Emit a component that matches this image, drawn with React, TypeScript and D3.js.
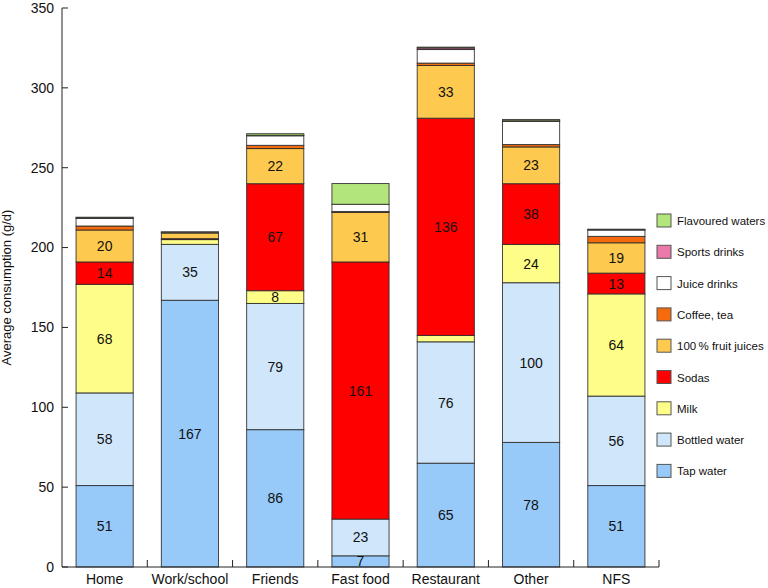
import React, { useEffect, useRef } from "react";
import * as d3 from "d3";

const categories = ["Home", "Work/school", "Friends", "Fast food", "Restaurant", "Other", "NFS"];

const seriesNames = [
  "Tap water",
  "Bottled water",
  "Milk",
  "Sodas",
  "100\u2009% fruit juices",
  "Coffee, tea",
  "Juice drinks",
  "Sports drinks",
  "Flavoured waters",
];

const seriesColours = [
  "#97c9f9",
  "#cfe6fb",
  "#fdfd88",
  "#ff0000",
  "#fec94f",
  "#f46a0c",
  "#ffffff",
  "#e97aab",
  "#b2e67c",
];

// values per category, one array per series (g/d)
const tapWater = [51, 167, 86, 7, 65, 78, 51];
const bottledWater = [58, 35, 79, 23, 76, 100, 56];
const milk = [68, 3, 8, 0, 4, 24, 64];
const sodas = [14, 0.6, 67, 161, 136, 38, 13];
const fruitJuices = [20, 3.5, 22, 31, 33, 23, 19];
const coffeeTea = [2.5, 0.5, 2, 0.6, 1.5, 1.5, 4];
const juiceDrinks = [4.8, 0.3, 6, 4.5, 8.5, 14.5, 4];
const sportsDrinks = [0.3, 0, 0.3, 0, 1, 0.4, 0.2];
const flavouredWaters = [0.4, 0, 1, 13, 0.5, 0.8, 0.3];

const yTicks = [0, 50, 100, 150, 200, 250, 300, 350];

const FONT = "'Liberation Sans', Arial, Helvetica, sans-serif";
const WIDTH = 768;
const HEIGHT = 588;

const App = () => {
  const svgRef = useRef(null);

  useEffect(() => {
    document.body.style.margin = "0";
    const svg = d3.select(svgRef.current);
    svg.selectAll("*").remove();

    const margin = { left: 62, right: 109, top: 8, bottom: 21 };
    const plotRight = WIDTH - margin.right;
    const plotBottom = HEIGHT - margin.bottom;

    const x = d3.scaleBand().domain(categories).range([margin.left, plotRight]).paddingInner(0.33).paddingOuter(0.165);
    const bandStep = x.step();
    const y = d3.scaleLinear().domain([0, 350]).range([plotBottom, margin.top]);

    const allSeries = [tapWater, bottledWater, milk, sodas, fruitJuices, coffeeTea, juiceDrinks, sportsDrinks, flavouredWaters];
    const table = categories.map((c, i) => {
      const row = { cat: c };
      seriesNames.forEach((s, k) => { row[s] = allSeries[k][i]; });
      return row;
    });
    const stacked = d3.stack().keys(seriesNames)(table);

    const g = svg.append("g");

    // bars
    stacked.forEach((layer, k) => {
      g.append("g")
        .selectAll("rect")
        .data(layer)
        .join("rect")
        .attr("x", (d) => x(d.data.cat))
        .attr("width", x.bandwidth())
        .attr("y", (d) => y(d[1]))
        .attr("height", (d) => Math.max(0, y(d[0]) - y(d[1])))
        .attr("fill", seriesColours[k])
        .attr("stroke", (d) => (d[1] - d[0] > 0 ? "#2a2a2a" : "none"))
        .attr("stroke-opacity", 0.85)
        .attr("stroke-width", 1);
    });

    // value labels, main drinks only
    stacked.slice(0, 5).forEach((layer) => {
      g.append("g")
        .selectAll("text")
        .data(layer.filter((d) => d[1] - d[0] >= 5))
        .join("text")
        .attr("x", (d) => x(d.data.cat) + x.bandwidth() / 2)
        .attr("y", (d) => (y(d[0]) + y(d[1])) / 2)
        .attr("dy", "0.36em")
        .attr("text-anchor", "middle")
        .style("font-family", FONT)
        .style("font-size", "14px")
        .attr("fill", "#111")
        .text((d) => d3.format("d")(d[1] - d[0]));
    });

    // y axis
    g.append("line")
      .attr("x1", margin.left).attr("x2", margin.left)
      .attr("y1", margin.top).attr("y2", plotBottom)
      .attr("stroke", "#222").attr("stroke-width", 1);
    yTicks.forEach((t) => {
      g.append("line")
        .attr("x1", margin.left).attr("x2", margin.left + 6)
        .attr("y1", y(t)).attr("y2", y(t))
        .attr("stroke", "#222");
      g.append("text")
        .attr("x", margin.left - 8)
        .attr("y", y(t))
        .attr("dy", "0.35em")
        .attr("text-anchor", "end")
        .style("font-family", FONT)
        .style("font-size", "14px")
        .attr("fill", "#111")
        .text(t);
    });

    // x axis
    g.append("line")
      .attr("x1", margin.left).attr("x2", plotRight)
      .attr("y1", plotBottom).attr("y2", plotBottom)
      .attr("stroke", "#222");
    categories.forEach((c, i) => {
      const bx = margin.left + bandStep * (i + 1);
      g.append("line")
        .attr("x1", bx).attr("x2", bx)
        .attr("y1", plotBottom).attr("y2", plotBottom - 7)
        .attr("stroke", "#222");
      g.append("text")
        .attr("x", x(c) + x.bandwidth() / 2)
        .attr("y", plotBottom + 17)
        .attr("text-anchor", "middle")
        .style("font-family", FONT)
        .style("font-size", "14px")
        .attr("fill", "#111")
        .text(c);
    });

    // y label
    g.append("text")
      .attr("transform", `translate(11,${(margin.top + plotBottom) / 2}) rotate(-90)`)
      .attr("text-anchor", "middle")
      .style("font-family", FONT)
      .style("font-size", "13px")
      .attr("fill", "#111")
      .text("Average consumption (g/d)");

    // legend, top entry = last series
    const legend = g.append("g");
    const legendItems = seriesNames.map((s, k) => ({ s, c: seriesColours[k] })).reverse();
    legendItems.forEach((it, i) => {
      const ly = 214 + i * 31.3;
      legend.append("rect")
        .attr("x", 657).attr("y", ly)
        .attr("width", 14).attr("height", 13)
        .attr("fill", it.c)
        .attr("stroke", "#555").attr("stroke-width", 1);
      legend.append("text")
        .attr("x", 677)
        .attr("y", ly + 7)
        .attr("dy", "0.35em")
        .style("font-family", FONT)
        .style("font-size", "11.5px")
        .attr("fill", "#111")
        .text(it.s);
    });
  }, []);

  return <svg ref={svgRef} width={WIDTH} height={HEIGHT} style={{ display: "block", background: "#fff" }} />;
};

export default App;
